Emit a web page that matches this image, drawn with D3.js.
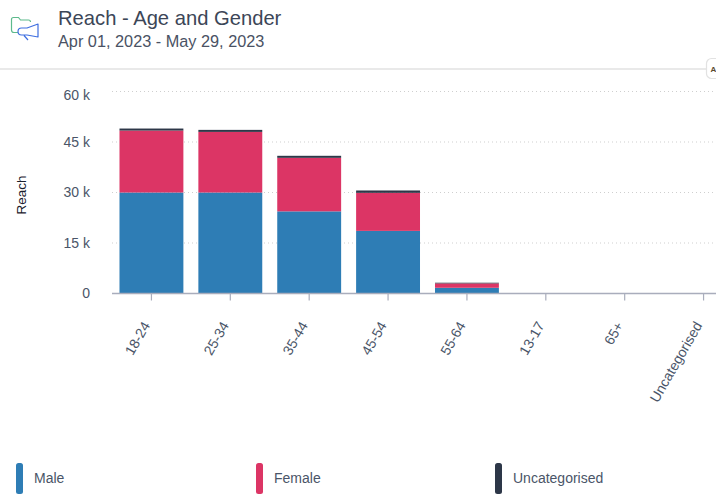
<!DOCTYPE html>
<html><head><meta charset="utf-8">
<script src="https://cdn.jsdelivr.net/npm/d3@7/dist/d3.min.js"></script>
<style>html,body{margin:0;padding:0;background:#fff;overflow:hidden}svg{display:block;font-family:"Liberation Sans",Arial,sans-serif}</style>
</head><body><svg id="c" width="716" height="504"></svg>
<script>
const categories=["18-24","25-34","35-44","45-54","55-64","13-17","65+","Uncategorised"];
const male=[30000,30000,24400,18600,1700,0,0,0];
const female=[18400,18000,15900,11300,1300,0,0,0];
const uncategorised=[600,600,600,700,200,0,0,0];
const seriesNames=["Male","Female","Uncategorised"];
const seriesColors=["#2e7db5","#dc3565","#2d3748"];
const yTicks=[0,15000,30000,45000,60000];
const svg=d3.select("#c");
const x=d3.scaleBand().domain(categories).range([112,743]).paddingInner(0.19).paddingOuter(0.095);
const y=d3.scaleLinear().domain([0,60000]).range([293.5,91.5]);
const txt="#4a5568";
// header
svg.append("text").attr("x",58).attr("y",25).attr("font-size",20.2).attr("fill","#3c4657").text("Reach - Age and Gender");
svg.append("text").attr("x",58).attr("y",47).attr("font-size",16.3).attr("fill","#4a5264").text("Apr 01, 2023 - May 29, 2023");
svg.append("line").attr("x1",0).attr("x2",706).attr("y1",69).attr("y2",69).attr("stroke","#e2e2e2").attr("stroke-width",1.5);
svg.append("rect").attr("x",706.5).attr("y",58.5).attr("width",20).attr("height",20).attr("rx",5).attr("fill","#fff").attr("stroke","#e2e2e2").attr("stroke-width",1.2);
svg.append("text").attr("x",710.5).attr("y",72).attr("font-size",8).attr("font-weight","bold").attr("fill","#5a4a30").text("A");
// icon
svg.append("path").attr("d","M18 32.5H14a2.5 2.5 0 0 1-2.5-2.5V19.5a2 2 0 0 1 2-2h5l2 2.5h8a2 2 0 0 1 2 2").attr("fill","none").attr("stroke","#5dba8c").attr("stroke-width",1.2);
svg.append("path").attr("d","M27 28h-5.5a3 3 0 0 0 0 7h5.5l11 2v-13z M24 35.5l4 4.5").attr("fill","none").attr("stroke","#3f6fe0").attr("stroke-width",1.2).attr("stroke-linejoin","round");
// y grid + axis
const yAxis=d3.axisLeft(y).tickValues(yTicks).tickSize(0).tickPadding(0).tickFormat(d=>d===0?"0":(d/1000)+" k");
const gy=svg.append("g").attr("transform","translate(90,0)").call(yAxis);
gy.select(".domain").remove();
gy.selectAll("text").attr("font-size",14).attr("fill",txt).attr("font-family","inherit")
 .attr("y",d=>d===yTicks[yTicks.length-1]?4:0);
svg.append("g").selectAll("line").data(yTicks.filter(d=>d>0)).join("line")
 .attr("x1",112).attr("x2",716).attr("y1",d=>y(d)).attr("y2",d=>y(d))
 .attr("stroke","#cfcfcf").attr("stroke-width",1).attr("stroke-dasharray","1 3");
// bars
const rows=categories.map((c,i)=>({c,Male:male[i],Female:female[i],Uncategorised:uncategorised[i]}));
const stacked=d3.stack().keys(seriesNames)(rows);
svg.append("g").selectAll("g").data(stacked).join("g").attr("fill",(d,i)=>seriesColors[i])
 .selectAll("rect").data(d=>d.filter(p=>p[1]>p[0])).join("rect")
 .attr("x",d=>x(d.data.c)).attr("width",x.bandwidth())
 .attr("y",d=>y(d[1])).attr("height",d=>y(d[0])-y(d[1]));
// x axis
const xAxis=d3.axisBottom(x).tickSize(7).tickPadding(0);
const gx=svg.append("g").attr("transform","translate(0,293.5)").call(xAxis);
gx.select(".domain").attr("d","M112,0H716").attr("stroke","#a9adbc").attr("stroke-width",1.5);
gx.selectAll(".tick line").attr("stroke","#a9adbc").attr("stroke-width",1.2);
gx.selectAll(".tick text").attr("font-size",14).attr("fill",txt).attr("font-family","inherit")
 .attr("text-anchor","end").attr("dy",0).attr("y",0)
 .attr("transform","translate(-4,30) rotate(-60)").attr("dominant-baseline","middle");
// y title
svg.append("text").attr("transform","translate(26,195) rotate(-90)").attr("text-anchor","middle").attr("font-size",13.5).attr("fill","#1a202c").text("Reach");
// legend
const legendX=[16,256,495];
const lg=svg.append("g").selectAll("g").data(seriesNames).join("g").attr("transform",(d,i)=>`translate(${legendX[i]},463)`);
lg.append("rect").attr("width",7).attr("height",31).attr("rx",2.5).attr("fill",(d,i)=>seriesColors[i]);
lg.append("text").attr("x",18).attr("y",20).attr("font-size",14).attr("fill",txt).text(d=>d);
</script></body></html>
